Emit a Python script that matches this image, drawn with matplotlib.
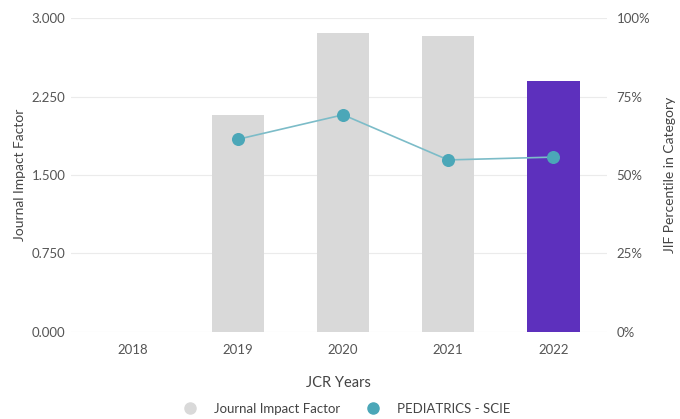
import matplotlib
matplotlib.use("Agg")
import matplotlib.pyplot as plt
from matplotlib.lines import Line2D

# values
years = ['2018', '2019', '2020', '2021', '2022']
jif = [0.0, 2.074, 2.855, 2.83, 2.40]
percentile = [None, 61.4, 69.2, 54.8, 55.7]

plt.rcParams['font.family'] = ['Lato', 'DejaVu Sans']

grey = '#d9d9d9'
purple = '#5d30bd'
teal = '#4ba7b8'
txt = '#555555'

fig = plt.figure(figsize=(6.8, 4.19), dpi=100)
ax = fig.add_axes([0.1044, 0.2084, 0.788, 0.748])
ax2 = ax.twinx()

x = list(range(len(years)))
bar_colors = [grey] * (len(years) - 1) + [purple]
ax.bar(x, jif, width=0.5, color=bar_colors, zorder=2)

px = [i for i, v in zip(x, percentile) if v is not None]
py = [v for v in percentile if v is not None]
ax2.plot(px, py, color='#7cbcc8', lw=1.2, zorder=3)
ax2.scatter(px, py, s=70, color=teal, zorder=4)

ax.set_xlim(-0.59, 4.51)
ax.set_ylim(0, 3.0)
ax2.set_ylim(0, 100)
ax.set_yticks([0, 0.75, 1.5, 2.25, 3.0])
ax.set_yticklabels(['0.000', '0.750', '1.500', '2.250', '3.000'])
ax2.set_yticks([0, 25, 50, 75, 100])
ax2.set_yticklabels(['0%', '25%', '50%', '75%', '100%'])
ax.set_xticks(x)
ax.set_xticklabels(years)

ax.grid(axis='y', color='#ebebeb', lw=0.8, zorder=0)
ax.set_axisbelow(True)
for a in (ax, ax2):
    for s in a.spines.values():
        s.set_visible(False)
    a.tick_params(length=0, colors=txt, labelsize=9.5)
ax.tick_params(axis='y', pad=4)
ax.tick_params(axis='x', pad=9)
ax2.tick_params(axis='y', pad=7)

ax.set_ylabel('Journal Impact Factor', color='#444444', fontsize=10)
ax.yaxis.set_label_coords(-0.084, 0.5)
ax2.set_ylabel('JIF Percentile in Category', color='#444444', fontsize=10)
ax2.yaxis.set_label_coords(1.106, 0.5)
ax.set_xlabel('JCR Years', color='#444444', fontsize=10.5, labelpad=14)

handles = [
    Line2D([], [], marker='o', ls='', markersize=8, color=grey),
    Line2D([], [], marker='o', ls='', markersize=8, color=teal),
]
fig.legend(handles, ['Journal Impact Factor', 'PEDIATRICS - SCIE'],
           loc='center', bbox_to_anchor=(0.505, 0.025), ncol=2, frameon=False,
           fontsize=9.5, labelcolor='#444444', columnspacing=1.5, handletextpad=0.8)

fig.savefig('out.png', dpi=100)
